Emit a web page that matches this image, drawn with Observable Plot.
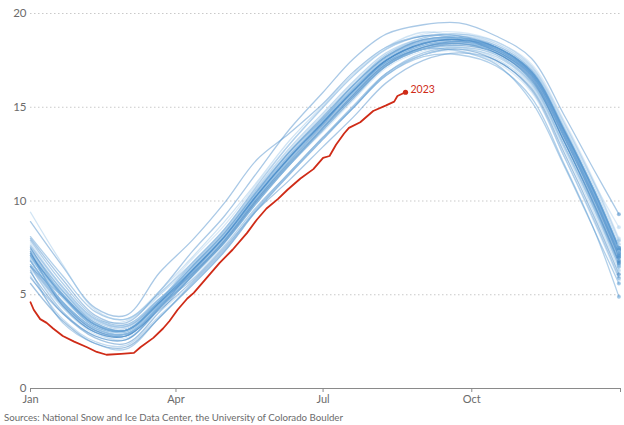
<!DOCTYPE html>
<html>
<head>
<meta charset="utf-8">
<script src="https://cdn.jsdelivr.net/npm/d3@7"></script>
<script src="https://cdn.jsdelivr.net/npm/@observablehq/plot@0.6"></script>
<style>
  html, body { margin: 0; padding: 0; background: #fff; }
  body { width: 624px; height: 425px; overflow: hidden; font-family: Lato, "Open Sans", sans-serif; }
  #chart svg { display: block; }
  .caption { font-size: 9.7px; color: #6b6b6b; margin: 6px 0 0 4px; }
</style>
</head>
<body>
<div id="chart"></div>
<div class="caption">Sources: National Snow and Ice Data Center, the University of Colorado Boulder</div>
<script>
// Antarctic sea ice extent (million sq km) by day of year

// Day of year (0 = Jan 1) at which each yearly value is sampled
const days = [0, 20, 40, 59, 80, 100, 120, 140, 160, 181, 200, 220, 243, 265, 288, 310, 330, 349, 364];

const years = [
  1979, 1980, 1981, 1982, 1983, 1984, 1985, 1986, 1987, 1988, 1989,
  1990, 1991, 1992, 1993, 1994, 1995, 1996, 1997, 1998, 1999,
  2000, 2001, 2002, 2003, 2004, 2005, 2006, 2007, 2008, 2009,
  2010, 2011, 2012, 2013, 2014, 2015, 2016, 2017, 2018, 2019,
  2020, 2021, 2022
];

// One row per year, values at the days above
const extentByYear = [
  [6.9,4.9,3.3,3.0,4.6,6.4,8.1,10.5,12.4,14.2,16.0,17.7,18.5,18.6,18.1,16.7,13.6,10.2,7.2],
  [8.1,6.0,4.1,3.7,5.1,6.7,8.5,10.8,13.0,15.0,16.7,18.1,18.8,18.7,18.1,16.8,13.6,10.3,7.3],
  [7.2,5.0,3.5,3.1,4.6,6.2,8.2,10.3,12.4,14.1,16.0,17.5,18.4,18.7,18.2,16.9,13.8,10.5,7.5],
  [7.5,5.2,3.6,3.2,4.7,6.5,8.2,10.4,12.5,14.4,16.1,17.7,18.5,18.8,18.3,17.0,13.9,10.5,7.5],
  [7.7,5.4,3.7,3.3,4.8,6.3,8.2,10.5,12.4,14.3,15.9,17.6,18.5,18.5,17.9,16.5,13.2,9.8,6.8],
  [6.8,4.6,3.2,2.9,4.3,6.0,7.8,10.0,11.9,13.9,15.6,17.2,18.1,18.4,18.0,16.6,13.4,10.0,7.0],
  [7.0,5.0,3.4,3.1,4.6,6.2,8.1,10.2,12.1,14.1,15.9,17.4,18.3,18.6,18.2,16.8,13.7,10.4,7.4],
  [7.4,5.2,3.5,3.1,4.5,5.8,7.6,9.7,11.5,13.4,15.0,16.8,17.9,18.2,17.8,16.3,13.0,9.6,6.6],
  [6.6,4.5,3.1,2.8,4.5,6.5,8.3,10.5,12.6,14.5,16.2,17.7,18.6,18.7,18.1,16.8,13.6,10.3,7.3],
  [7.1,4.9,3.4,3.0,4.6,6.3,8.1,10.3,12.3,14.2,15.9,17.5,18.4,18.6,18.1,16.7,13.6,10.2,7.2],
  [7.3,5.0,3.4,3.1,4.4,5.9,7.7,9.9,11.9,13.7,15.4,17.1,18.0,18.3,17.9,16.5,13.2,9.8,6.8],
  [6.5,4.4,3.0,2.8,4.3,6.1,7.9,10.1,12.0,13.9,15.7,17.3,18.2,18.5,18.0,16.7,13.5,10.1,7.1],
  [7.0,4.8,3.3,2.9,4.4,6.0,7.8,9.9,11.9,13.8,15.5,17.2,18.1,18.4,18.0,16.5,13.3,9.9,6.9],
  [6.8,4.6,3.2,2.9,4.4,6.2,8.0,10.2,12.2,14.1,15.8,17.4,18.3,18.5,18.1,16.7,13.6,10.2,7.2],
  [6.2,4.0,2.7,2.4,4.1,6.0,7.8,10.0,12.0,13.9,15.6,17.2,18.2,18.5,18.2,16.8,13.7,10.4,7.4],
  [7.4,5.0,3.4,3.1,4.7,6.6,8.4,10.6,12.6,14.5,16.2,17.8,18.6,18.7,18.1,16.8,13.6,10.3,7.3],
  [7.4,5.3,3.6,3.3,4.8,6.5,8.2,10.4,12.5,14.4,16.1,17.7,18.5,18.7,18.2,16.9,13.8,10.5,7.5],
  [7.6,5.4,3.7,3.3,4.7,6.3,8.1,10.3,12.3,14.3,16.0,17.5,18.4,18.6,18.0,16.6,13.4,10.0,7.0],
  [6.9,4.3,3.0,2.6,4.3,6.1,7.9,10.1,12.0,13.9,15.7,17.3,18.2,18.4,17.9,16.4,13.2,9.7,6.7],
  [6.5,4.1,2.8,2.6,4.4,6.4,8.2,10.4,12.4,14.3,16.0,17.6,18.5,18.7,18.2,16.9,13.8,10.5,7.5],
  [7.5,5.0,3.4,3.1,4.6,6.1,7.9,10.1,12.1,14.0,15.7,17.3,18.2,18.4,17.9,16.5,13.2,9.8,6.8],
  [6.8,4.5,3.1,2.8,4.5,6.4,8.2,10.4,12.4,14.3,16.0,17.6,18.5,18.7,18.3,17.0,13.9,10.5,7.5],
  [7.6,5.4,3.7,3.4,4.8,6.4,8.2,10.5,12.5,14.4,16.1,17.6,18.5,18.6,18.1,16.7,13.6,10.2,7.2],
  [7.1,4.6,3.1,2.9,4.2,5.7,7.5,9.5,11.1,12.9,14.5,16.3,17.5,17.9,17.5,15.9,12.4,8.9,5.9],
  [6.6,5.2,3.7,3.6,5.0,6.6,8.4,10.6,12.7,14.6,16.3,17.8,18.7,18.9,18.4,17.1,14.0,10.7,7.7],
  [7.9,5.6,3.8,3.4,4.8,6.3,8.1,10.3,12.3,14.2,15.9,17.5,18.4,18.6,18.0,16.7,13.5,10.1,7.1],
  [7.1,5.0,3.4,3.1,4.6,6.3,8.1,10.3,12.3,14.2,15.9,17.5,18.4,18.6,18.2,16.8,13.7,10.4,7.4],
  [7.2,4.5,3.0,2.8,4.4,6.2,8.0,10.2,12.2,14.1,15.8,17.4,18.3,18.5,18.2,16.8,13.7,10.4,7.4],
  [7.4,5.0,3.4,3.1,4.7,6.4,8.2,10.4,12.4,14.3,16.0,17.6,18.5,18.8,18.4,17.1,14.1,10.9,8.6],
  [8.9,6.5,4.3,3.9,6.2,7.9,9.9,12.2,13.6,15.2,16.9,18.2,18.8,18.8,18.2,16.9,13.8,10.4,7.4],
  [7.3,5.1,3.5,3.0,4.5,6.4,8.2,10.2,12.2,14.3,16.0,17.4,18.4,18.7,18.1,16.7,13.6,10.3,7.3],
  [7.2,4.9,3.3,3.1,4.7,6.5,8.3,10.5,12.6,14.4,16.2,17.7,18.6,18.7,18.2,16.9,13.8,10.5,7.5],
  [7.3,4.4,3.0,2.8,4.3,6.0,7.8,9.9,11.9,13.8,15.5,17.2,18.1,18.3,17.9,16.4,13.2,9.7,6.7],
  [6.8,4.6,3.2,2.9,4.7,6.7,8.5,10.7,12.8,14.7,16.4,17.9,18.7,18.9,18.5,17.2,14.2,10.9,7.9],
  [7.8,5.4,3.7,3.3,5.0,6.9,8.7,10.9,13.0,15.0,16.7,18.1,18.9,19.0,18.5,17.3,14.3,11.0,8.0],
  [8.0,5.8,3.9,3.5,5.2,7.3,9.2,11.5,13.8,15.8,17.6,18.9,19.4,19.5,18.8,17.6,14.6,11.6,9.3],
  [9.4,6.6,4.2,3.7,5.2,7.0,8.9,11.0,13.2,15.1,16.8,18.2,19.0,18.7,17.8,16.3,13.0,9.5,6.5],
  [6.5,4.9,3.4,3.1,4.6,6.3,8.1,10.3,12.3,14.2,15.9,17.4,18.1,18.0,17.3,15.3,11.9,8.4,5.6],
  [5.6,3.6,2.4,2.2,3.8,5.6,7.4,9.6,11.5,13.4,15.1,16.8,17.8,18.1,17.5,16.0,12.6,9.1,6.1],
  [6.0,3.7,2.5,2.3,3.9,5.5,7.3,9.5,11.4,13.3,15.0,16.7,17.8,18.1,17.7,16.2,12.9,9.5,6.5],
  [6.4,4.3,2.9,2.7,4.1,5.6,7.4,9.6,11.5,13.4,15.1,16.8,17.8,18.0,17.4,15.8,12.4,8.8,5.8],
  [5.9,4.0,2.8,2.6,4.3,6.3,8.1,10.3,12.3,14.2,15.9,17.5,18.4,18.6,18.1,16.7,13.6,10.2,7.2],
  [7.1,4.6,3.2,2.9,4.3,6.0,7.8,9.9,11.9,13.8,15.5,17.2,18.1,18.2,17.6,16.1,12.8,9.3,6.3],
  [6.3,3.5,2.4,2.1,3.8,5.5,7.3,9.5,11.4,13.3,15.0,16.7,17.7,17.8,17.2,15.5,12.0,8.4,4.9]
];

// 2023 so far
const days2023 = [0, 2, 6, 10, 14, 20, 27, 35, 41, 47, 56, 64, 68, 76, 82, 86, 91, 97, 101, 109, 117, 125,
  134, 140, 146, 153, 159, 167, 175, 181, 185, 189, 194, 197, 204, 212, 220, 225, 227, 232];
const extent2023 = [4.6, 4.2, 3.7, 3.5, 3.2, 2.8, 2.5, 2.2, 1.95, 1.8, 1.85, 1.9, 2.2, 2.7, 3.2, 3.6, 4.2, 4.8, 5.1, 5.9, 6.7, 7.4,
  8.3, 9.0, 9.6, 10.1, 10.6, 11.2, 11.7, 12.3, 12.4, 13.0, 13.6, 13.9, 14.2, 14.8, 15.1, 15.3, 15.6, 15.8];

const yTicks = [0, 5, 10, 15, 20];
const xTicks = [0, 90, 181, 273, 365];
const xTickLabels = ["Jan", "Apr", "Jul", "Oct", ""];

const pastRows = years.flatMap((year, i) =>
  days.map((day, j) => ({year, day, value: extentByYear[i][j]}))
);
const pastEnds = years.map((year, i) => ({year, day: days[days.length - 1], value: extentByYear[i][days.length - 1]}));
const rows2023 = days2023.map((day, i) => ({day, value: extent2023[i]}));
const end2023 = rows2023[rows2023.length - 1];

const blues = ["#9cc6e8", "#5b9bd2", "#3a7fbf", "#7fb2df", "#b3d3ee", "#4a8cc9"];
const red = "#cf2b17";

const chart = Plot.plot({
  width: 624,
  height: 405,
  marginTop: 13,
  marginLeft: 30,
  marginRight: 4,
  marginBottom: 17,
  style: {fontFamily: "Lato, 'Open Sans', sans-serif", fontSize: "11px", color: "#6b6b6b", background: "#fff"},
  x: {domain: [0, 365]},
  y: {domain: [0, 20]},
  color: {type: "ordinal", domain: years, range: blues},
  marks: [
    Plot.gridY(yTicks.filter((v) => v > 0), {stroke: "#c9c9c9", strokeOpacity: 1, strokeDasharray: "1.5,2.5"}),
    Plot.axisY({ticks: yTicks, tickSize: 0, tickPadding: 4, label: null, fontSize: 11.5}),
    Plot.axisX({ticks: xTicks, tickSize: 4, tickPadding: 3, label: null, stroke: "#8a8a8a", fontSize: 11,
      tickFormat: (d) => xTickLabels[xTicks.indexOf(d)]}),
    Plot.ruleY([0], {stroke: "#8a8a8a", strokeWidth: 1}),
    Plot.line(pastRows, {x: "day", y: "value", z: "year", stroke: "year", strokeWidth: 1.3,
      strokeOpacity: 0.47, curve: "catmull-rom"}),
    Plot.dot(pastEnds, {x: "day", y: "value", fill: "year", r: 2, fillOpacity: 0.55}),
    Plot.line(rows2023, {x: "day", y: "value", stroke: red, strokeWidth: 1.8}),
    Plot.dot([end2023], {x: "day", y: "value", fill: red, r: 2.6}),
    Plot.text([end2023], {x: "day", y: "value", text: () => "2023", fill: red, textAnchor: "start",
      dx: 5, dy: -3, fontSize: 10.5})
  ]
});

document.getElementById("chart").append(chart);
</script>
</body>
</html>
